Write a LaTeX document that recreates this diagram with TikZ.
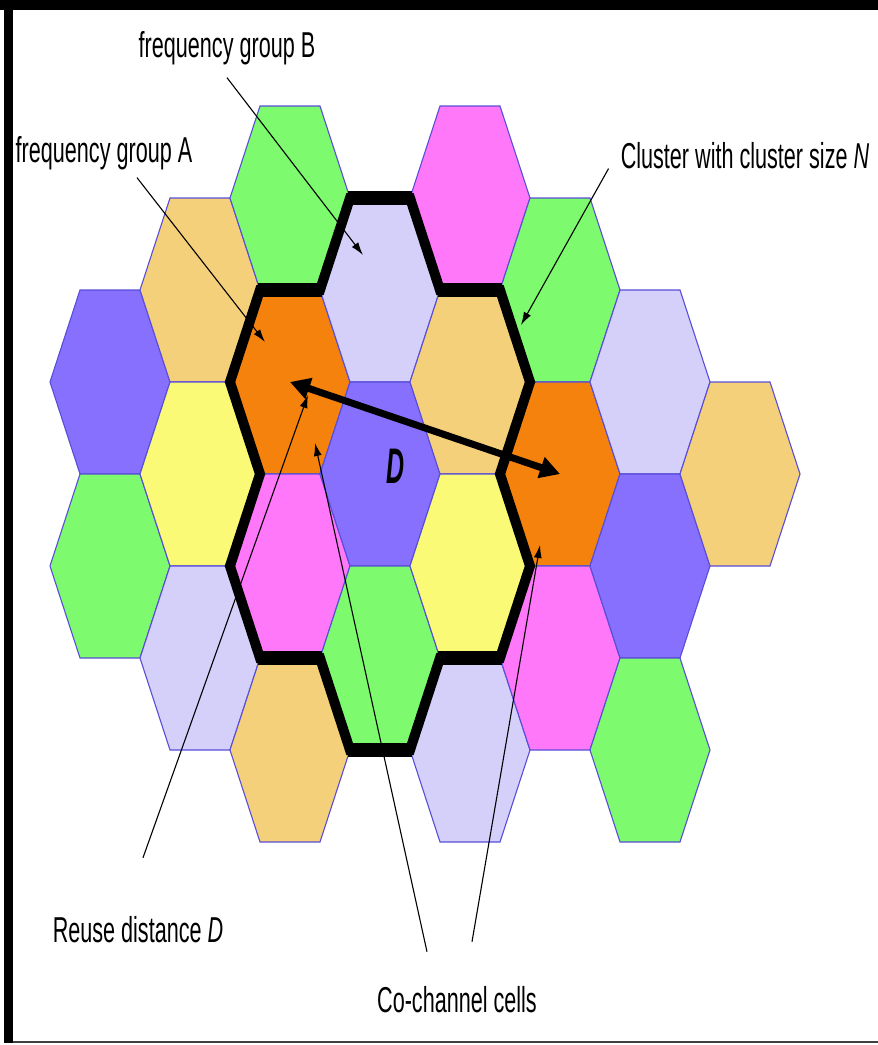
\documentclass[tikz,border=0pt]{standalone}
\usepackage{fontspec}
\newfontfamily\narrowsf[FakeStretch=0.6]{Liberation Sans}
\newfontfamily\dsf[FakeStretch=0.5]{Liberation Sans}
\usetikzlibrary{arrows.meta}
\definecolor{cpurple}{RGB}{136,112,255}
\definecolor{cgreen}{RGB}{125,250,110}
\definecolor{ctan}{RGB}{245,208,122}
\definecolor{cyellow}{RGB}{250,250,118}
\definecolor{clav}{RGB}{212,208,250}
\definecolor{corange}{RGB}{245,130,12}
\definecolor{cpink}{RGB}{255,120,250}
\definecolor{celledge}{RGB}{88,78,215}
\tikzset{
  cell/.style={draw=celledge, line width=1.1pt},
  cluster/.style={draw=black, line width=10pt},
  lead/.style={draw, line width=1.1pt, -{Latex[length=13pt,width=8pt]}},
  dist/.style={line width=7pt, {Triangle[length=20pt,width=21pt]}-{Triangle[length=20pt,width=21pt]}},
  note/.style={font=\narrowsf\fontsize{36}{40}\selectfont, inner sep=0pt, anchor=base},
  dmark/.style={font=\dsf\bfseries\itshape\fontsize{50}{52}\selectfont, inner sep=0pt}
}
\begin{document}
\begin{tikzpicture}[x=1pt,y=-1pt]
    \useasboundingbox (0,0) rectangle (878,1045);
    \fill (0,0) rectangle (878,10);
    \fill (4,0) rectangle (13,1043);
    \draw[line width=2pt,black!75] (13,1042) -- (878,1042);

    \foreach \cx/\cy/\fc [count=\i] in {
      110/382/cpurple, 110/566/cgreen,
      200/290/ctan, 200/474/cyellow, 200/658/clav,
      290/198/cgreen, 290/382/corange, 290/566/cpink, 290/750/ctan,
      380/290/clav, 380/474/cpurple, 380/658/cgreen,
      470/198/cpink, 470/382/ctan, 470/566/cyellow, 470/750/clav,
      560/290/cgreen, 560/474/corange, 560/658/cpink,
      650/382/clav, 650/566/cpurple, 650/750/cgreen,
      740/474/ctan}{
      \coordinate (cell\i) at (\cx,\cy);
      \draw[cell,fill=\fc] ({\cx-60},\cy) -- ({\cx-30},{\cy-92}) -- ({\cx+30},{\cy-92})
        -- ({\cx+60},\cy) -- ({\cx+30},{\cy+92}) -- ({\cx-30},{\cy+92}) -- cycle;
    }

    \draw[cluster] (230,382) -- (260,290) -- (320,290) -- (350,198) -- (410,198) -- (440,290)
      -- (500,290) -- (530,382) -- (500,474) -- (530,566) -- (500,658) -- (440,658)
      -- (410,750) -- (350,750) -- (320,658) -- (260,658) -- (230,566) -- (260,474) -- cycle;
    \draw[line width=14pt] (258,290) -- (322,290) (348,198) -- (412,198) (438,290) -- (502,290)
      (438,658) -- (502,658) (348,750) -- (412,750) (258,658) -- (322,658);

    \coordinate (tipA) at (265,342);
    \coordinate (tipB) at (363,255);
    \coordinate (tipN) at (521,325);
    \coordinate (tipR) at (308,395);
    \coordinate (tipC1) at (315,443);
    \coordinate (tipC2) at (540,545);

    \node (fgB) [note, at={(227,57)}] {frequency group B};
    \node (fgA) [note, at={(104,162)}] {frequency group A};
    \node (clus) [note, at={(745,168)}] {Cluster with cluster size \textit{N}};
    \node (reuse) [note, at={(138,942)}] {Reuse distance \textit{D}};
    \node (cochan) [note, at={(457,1012)}] {Co-channel cells};
    \node (dlen) [dmark, at={([xshift=16pt,yshift=8pt]cell11)}] {D};

    \path[draw,dist] (cell7) -- (cell18);

    \path
    ([yshift=-13pt]fgB.south) edge[lead] (tipB)
    ([xshift=33pt,yshift=-8pt]fgA.south) edge[lead] (tipA)
    ([xshift=-12pt]clus.south west) edge[lead] (tipN)
    ([xshift=5pt,yshift=58pt]reuse.north) edge[lead] (tipR)
    ([xshift=-30pt,yshift=34pt]cochan.north) edge[lead] (tipC1)
    ([xshift=15pt,yshift=44pt]cochan.north) edge[lead] (tipC2)
    ;
\end{tikzpicture}
\end{document}
